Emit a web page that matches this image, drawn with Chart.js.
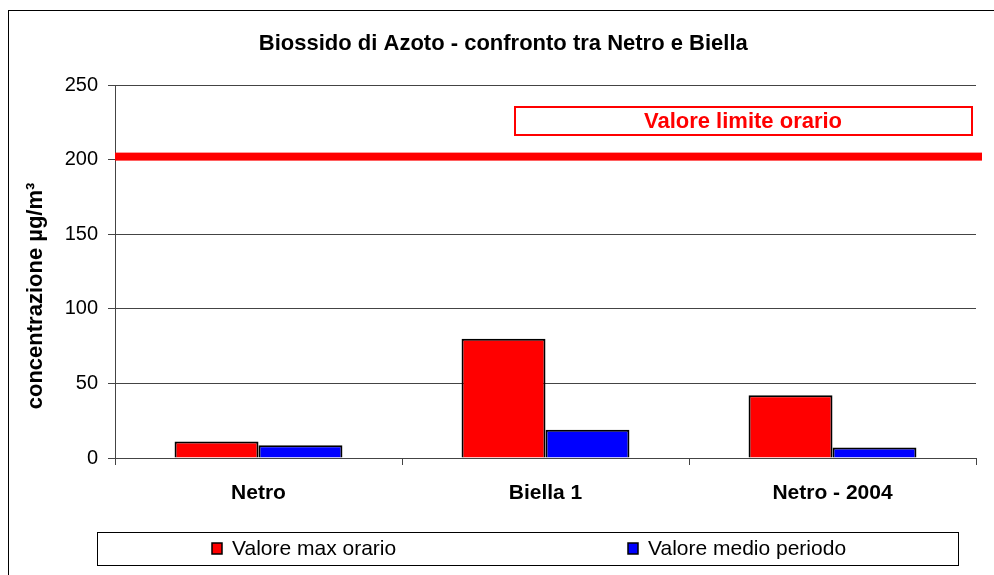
<!DOCTYPE html>
<html>
<head>
<meta charset="utf-8">
<script src="https://cdn.jsdelivr.net/npm/chart.js@4/dist/chart.umd.min.js"></script>
<style>
  body { margin: 0; background: #fff; overflow: hidden; }
  #frame { position: absolute; left: 8px; top: 10px; width: 1100px; height: 700px; border: 1px solid #000; }
  canvas { position: absolute; left: 0; top: 0; }
</style>
</head>
<body>
<div id="frame"></div>
<canvas id="no2Chart" width="994" height="575"></canvas>
<script>
const stations = ["Netro", "Biella 1", "Netro - 2004"];
const maxOrario = [11, 80, 42];
const medioPeriodo = [8.5, 19, 7];
const yTicks = [0, 50, 100, 150, 200, 250];
const limiteOrario = 202;
const limiteLabel = "Valore limite orario";

const FONT = "'Liberation Sans', Arial, sans-serif";

// thick red limit line + its boxed label
const limitLine = {
  id: "limitLine",
  afterDatasetsDraw(chart) {
    const { ctx, chartArea, scales } = chart;
    const y = scales.y.getPixelForValue(limiteOrario);
    ctx.save();
    ctx.fillStyle = "#FF0000";
    ctx.fillRect(chartArea.left, y - 4, chartArea.right - chartArea.left + 6, 8);
    ctx.strokeStyle = "#FF0000";
    ctx.lineWidth = 2;
    ctx.strokeRect(515, 107, 457, 28);
    ctx.font = "bold 22px " + FONT;
    ctx.textAlign = "center";
    ctx.textBaseline = "middle";
    ctx.fillText(limiteLabel, 743, 122);
    ctx.restore();
  }
};

// boxed legend at the bottom, items spread over the box
const boxLegend = {
  id: "boxLegend",
  afterDraw(chart) {
    const { ctx } = chart;
    ctx.save();
    ctx.strokeStyle = "#000";
    ctx.lineWidth = 1;
    ctx.strokeRect(97.5, 532.5, 861, 33);
    ctx.font = "21px " + FONT;
    ctx.textBaseline = "middle";
    chart.data.datasets.forEach((ds, i) => {
      const x = 212 + i * 416;
      ctx.fillStyle = ds.backgroundColor;
      ctx.fillRect(x, 543, 10, 11);
      ctx.strokeStyle = "#000";
      ctx.lineWidth = 1.5;
      ctx.strokeRect(x, 543, 10, 11);
      ctx.fillStyle = "#000";
      ctx.fillText(ds.label, x + 20, 549);
    });
    ctx.restore();
  }
};

new Chart(document.getElementById("no2Chart"), {
  type: "bar",
  data: {
    labels: stations,
    datasets: [
      {
        label: "Valore max orario",
        data: maxOrario,
        backgroundColor: "#FF0000",
        borderColor: "#000",
        borderWidth: 2,
      },
      {
        label: "Valore medio periodo",
        data: medioPeriodo,
        backgroundColor: "#0000FF",
        borderColor: "#000",
        borderWidth: 2,
      },
    ],
  },
  options: {
    responsive: false,
    animation: false,
    categoryPercentage: 0.585,
    barPercentage: 1,
    layout: { padding: { left: 0, right: 18, top: 0, bottom: 0 } },
    plugins: {
      legend: { display: false },
      tooltip: { enabled: false },
      title: {
        display: true,
        text: "     Biossido di Azoto - confronto tra Netro e Biella",
        color: "#000",
        font: { size: 22, weight: "bold", family: FONT, lineHeight: 1 },
        padding: { top: 33, bottom: 30 },
      },
    },
    scales: {
      x: {
        afterFit: s => { s.height = 117; },
        border: { color: "#444", width: 1 },
        grid: { drawOnChartArea: false, tickLength: 7, color: "#444", offset: true },
        ticks: { color: "#000", padding: 16, font: { size: 21, weight: "bold", family: FONT } },
      },
      y: {
        min: 0,
        max: 250,
        afterFit: s => { s.width = 115; },
        afterBuildTicks: s => { s.ticks = yTicks.map(v => ({ value: v })); },
        border: { color: "#444", width: 1 },
        grid: { color: "#444", tickLength: 7 },
        ticks: { color: "#000", padding: 10, font: { size: 20, family: FONT } },
        title: {
          display: true,
          text: "concentrazione µg/m³        ",
          color: "#000",
          font: { size: 22, weight: "bold", family: FONT },
          padding: { top: 23, bottom: 0 },
        },
      },
    },
  },
  plugins: [limitLine, boxLegend],
});
</script>
</body>
</html>
